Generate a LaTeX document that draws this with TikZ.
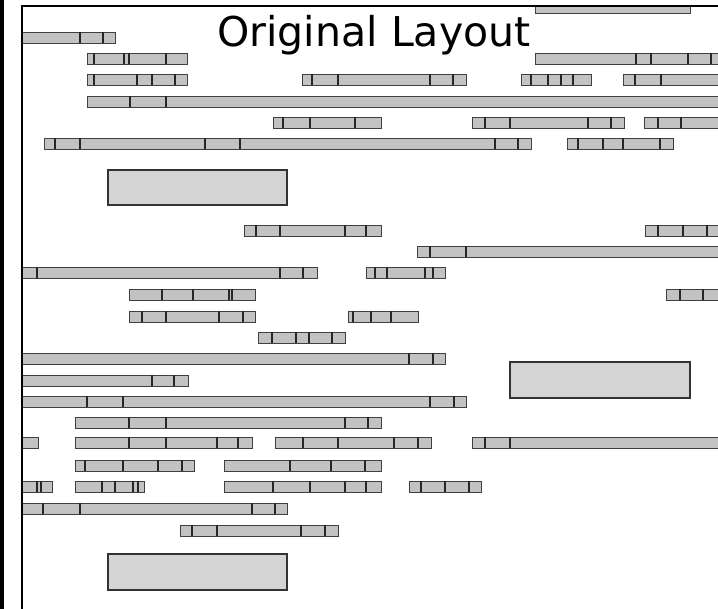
\documentclass[tikz,border=0pt]{standalone}
\usepackage{fontspec}
\newfontfamily\titlefont{DejaVu Sans}
\usepackage{tikz}
\usetikzlibrary{positioning}

\tikzset{
  slot/.style={draw=black!75, fill=black!24, line width=0.7pt},
  slotmark/.style={draw=black!85, line width=0.8pt},
  block/.style={draw=black!80, fill=black!17, line width=0.9pt},
}

\begin{document}
\begin{tikzpicture}[x=0.025cm,y=-0.025cm]
  \useasboundingbox (0,0) rectangle (718,609);
  \fill (0,0) rectangle (4,609);
  \begin{scope}
    \clip (22,6) rectangle (718,609);
    \draw[slot] (535,2) rectangle (690,13);
    \draw[slot] (22,437.5) rectangle (38,448.5);
    \foreach \y/\a/\b/\ds in {37.5/22/115/{80,103}, 58.5/87/187/{94,124,129,166},
      58.5/535/725/{636,651,688,711}, 79.5/87/187/{94,137,152,175},
      79.5/302/466/{312,338,430,453}, 79.5/521/591/{531,548,561,573},
      79.5/623/725/{635,661}, 101.5/87/725/{130,166},
      122.5/273/381/{283,310,355}, 122.5/472/624/{485,510,588,611},
      122.5/644/725/{658,681}, 144/44/531/{55,80,205,240,495,518},
      144/567/673/{578,603,623,660}, 230.5/244/381/{256,280,345,366},
      230.5/645/725/{658,683,707}, 252/417/725/{430,466},
      273/22/317/{37,280,303}, 273/366/445/{375,387,425,433},
      294.5/129/255/{162,193,229,232}, 294.5/666/725/{680,703},
      316.5/129/255/{142,166,219,243}, 316.5/348/418/{353,371,391},
      337.5/258/345/{272,296,309,332}, 358.5/22/445/{409,433},
      380.5/22/188/{152,174}, 401.5/22/466/{87,123,430,454},
      422.5/75/381/{129,166,345,368}, 443/75/252/{129,166,217,238},
      443/275/431/{303,338,394,418}, 443/472/725/{485,510},
      466/75/194/{85,123,158,182}, 466/224/381/{290,331,365},
      487/22/52/{37,41}, 487/75/144/{102,115,133,138},
      487/224/381/{273,310,345,366}, 487/409/481/{421,445,469},
      508.5/22/287/{43,80,252,275}, 530.5/180/338/{192,217,301,325}}{
      \draw[slot] (\a,\y-5.5) rectangle (\b,\y+5.5);
      \foreach \d in \ds \draw[slotmark] (\d,\y-5.5) -- (\d,\y+5.5);
    }
    \foreach \a/\b/\c/\d in {108/170/287/205, 510/362/690/398, 108/554/287/590}
      \draw[block] (\a,\b) rectangle (\c,\d);
  \end{scope}
  \draw[line width=1.6pt] (22,609) -- (22,6) -- (718,6);
  \node[font=\titlefont\fontsize{29.2}{31}\selectfont, anchor=base west, inner sep=0pt] (title) at (217,47) {Original Layout};
\end{tikzpicture}
\end{document}
